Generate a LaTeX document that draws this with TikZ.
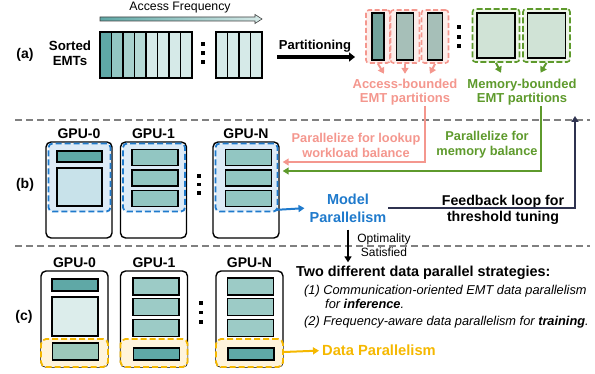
\documentclass[tikz,border=0pt]{standalone}
\usepackage{fontspec}
\setmainfont{Liberation Sans}
\usetikzlibrary{arrows.meta}

\definecolor{tealA}{HTML}{5FA8A6}
\definecolor{tealB}{HTML}{92C6C2}
\definecolor{tealC}{HTML}{A8D2CE}
\definecolor{tealD}{HTML}{B6DAD6}
\definecolor{tealE}{HTML}{D6EAE8}
\definecolor{accA}{HTML}{72A39C}
\definecolor{accB}{HTML}{A6BFB8}
\definecolor{memfill}{HTML}{D0E3D6}
\definecolor{salmon}{HTML}{F4978E}
\definecolor{salmonbg}{HTML}{FDEDEA}
\definecolor{leaf}{HTML}{5E9A2C}
\definecolor{leafbg}{HTML}{EEF5E8}
\definecolor{mpblue}{HTML}{1F7ACC}
\definecolor{mpbg}{HTML}{DDEBF7}
\definecolor{navy}{HTML}{2F3350}
\definecolor{dpyellow}{HTML}{F5B800}
\definecolor{dpbg}{HTML}{FFF4DC}
\definecolor{sqblue}{HTML}{C8E2EA}
\definecolor{sqpale}{HTML}{DCEDEB}
\definecolor{barmid}{HTML}{9CCBC6}
\definecolor{barsoft}{HTML}{9CC8BA}

\begin{document}
\begin{tikzpicture}[x=1pt,y=-1pt,
	every node/.style={font=\fontsize{13}{14.5}\selectfont\bfseries, inner sep=0pt},
	cell/.style n args={3}{draw=black, line width=1.1pt, fill=#1, minimum width=#2, minimum height=#3},
	gpu/.style={draw=black, fill=white, line width=1.4pt, rounded corners=5pt, minimum width=66, minimum height=96},
	gpulbl/.style={font=\fontsize{14}{15}\selectfont\bfseries, label distance=2pt},
	panel/.style={font=\fontsize{14}{15}\selectfont\bfseries},
	accbox/.style={draw=salmon, fill=salmonbg, dash pattern=on 5pt off 2.5pt, line width=1.6pt, rounded corners=3pt, minimum height=53},
	membox/.style={draw=leaf, fill=leafbg, dash pattern=on 6pt off 2.5pt, line width=1.6pt, rounded corners=3pt, minimum height=53},
	mpzone/.style={draw=mpblue, fill=mpbg, dash pattern=on 6pt off 3pt, line width=1.8pt, rounded corners=4pt},
	dpzone/.style={draw=dpyellow, fill=dpbg, dash pattern=on 6pt off 3pt, line width=1.8pt, rounded corners=5pt},
	sep/.style={draw=black!50, line width=1.3pt, dash pattern=on 7pt off 4pt},
	tip/.style={-{Triangle[length=6pt,width=7pt]}},
	dot/.style={fill=black, minimum size=3.2pt}]
	\useasboundingbox (0,0) rectangle (595,374);

	% (a) sorted EMTs and partitioning
	\node[panel] (pa) at (25,55) {(a)};
	\node[font=\fontsize{13.3}{15}\selectfont\bfseries, align=center] (sorted) at (70,53) {Sorted\\EMTs};
	\node[font=\fontsize{12.3}{13}\selectfont] (freq) at (180,8) {Access Frequency};
	\shade[left color=tealA, right color=tealE, draw=black!75, line width=0.6pt] (100,17) -- (255,17) -- (255,14.5) -- (262,19) -- (255,23.5) -- (255,21) -- (100,21) -- cycle;
	\foreach \i/\c in {0/tealA,1/tealB,2/tealC,3/tealD,4/tealE,5/tealE,6/tealE,7/tealE}
		\node[cell={\c}{11.5}{46}] (s\i) at (105.75+11.5*\i,55) {};
	\foreach \i in {0,...,3}
		\node[cell={tealE}{11.5}{46}] (t\i) at (221.75+11.5*\i,55) {};
	\foreach \y [count=\k] in {44,53,62}
		\node[dot] (da\k) at (203,\y) {};

	\node (part) at (315,46) {Partitioning};
	\coordinate (partL) at (277,57);
	\coordinate (partR) at (355,57);
	\draw[line width=3.6pt, -{Triangle[length=6pt,width=9pt]}] (partL) -- (partR);

	\foreach \n/\cx/\w/\c in {1/378/12/accA, 2/405/17/accB, 3/435/15/accB} {
		\node[accbox, minimum width=\w+12] (accd\n) at (\cx,36.5) {};
		\node[cell={\c}{\w}{47}] (accb\n) at (\cx,36.5) {};
	}
	\foreach \y [count=\k] in {27,37,46}
		\node[dot] (dm\k) at (459,\y) {};
	\foreach \n/\cx in {1/496, 2/546.5} {
		\node[membox, minimum width=47] (memd\n) at (\cx,35.5) {};
		\node[cell={memfill}{38}{45}] (memb\n) at (\cx,35.5) {};
	}

	\node[text=salmon, align=center] (acc) at (405,92) {Access-bounded\\EMT partitions};
	\node[text=leaf, align=center] (mem) at (522,92) {Memory-bounded\\EMT partitions};
	\draw[salmon, line width=2pt, tip] (accd1.south) -- ++(6,10);
	\draw[salmon, line width=2pt, tip] (accd2.south) -- ++(0,10);
	\draw[salmon, line width=2pt, tip] (accd3.south) -- ++(-5,10);
	\draw[leaf, line width=2pt, tip] (memd1.south) -- ++(5,10);
	\draw[leaf, line width=2pt, tip] (memd2.south) -- ++(-6,10);

	\draw[sep] (15,120) -- (590,120);
	\draw[sep] (15,246) -- (590,246);

	% (b) model parallelism
	\node[panel] (pb) at (25,185) {(b)};
	\foreach \g/\cx/\t in {0/79/GPU-0, 1/153.5/GPU-1, N/246/GPU-N} {
		\node[gpu, label={[gpulbl]above:\t}] (gpub\g) at (\cx,190) {};
		\node[mpzone, minimum width=62, minimum height=68] (mpz\g) at (\cx+0.5,177.5) {};
	}
	\node[cell={tealA}{45}{11}] (b0a) at (79.5,156.5) {};
	\node[cell={sqblue}{45}{38}] (b0b) at (79.5,187) {};
	\foreach \g/\cx in {1/155, N/248.5}
		\foreach \y [count=\k] in {157.5,178,198.5}
			\node[cell={tealB}{46}{16}] (b\g\k) at (\cx,\y) {};
	\foreach \y [count=\k] in {176,184.5,193}
		\node[dot] (db\k) at (199,\y) {};

	\node[font=\fontsize{12.8}{15}\selectfont\bfseries, text=salmon, align=center] (lookup) at (356,145) {Parallelize for lookup\\workload balance};
	\node[font=\fontsize{12.8}{15}\selectfont\bfseries, text=leaf, align=center] (membal) at (487,145) {Parallelize for\\memory balance};
	\coordinate (accdrop) at (425,106);
	\coordinate (memdrop) at (541,106);
	\draw[salmon, line width=2pt, tip] (accdrop) |- ([xshift=3,yshift=28]gpubN.east);
	\draw[leaf, line width=2pt, tip] (memdrop) |- ([xshift=3,yshift=19]gpubN.east);

	\node[font=\fontsize{14.5}{18}\selectfont\bfseries, text=mpblue, align=center, inner sep=2pt] (mp) at (348,208) {Model\\Parallelism};
	\draw[mpblue, line width=2pt, tip, shorten >=3pt] ([shift={(-3,-2.5)}]mpzN.south east) -- (mp.west);
	\node[font=\fontsize{14.2}{16.5}\selectfont\bfseries, align=center] (fb) at (503,210) {Feedback loop for\\threshold tuning};
	\coordinate (fbtop) at (575,116);
	\draw[navy, line width=2pt, tip] (mp.east) -| (fbtop);

	\node[font=\fontsize{12}{14}\selectfont, align=center] (opt) at (384,245) {Optimality\\Satisfied};

	% (c) data parallelism
	\node[panel] (pc) at (24,317) {(c)};
	\foreach \g/\cx/\t in {0/74.5/GPU-0, 1/154/GPU-1, N/249.5/GPU-N} {
		\node[gpu, minimum width=67, label={[gpulbl]above:\t}] (gpuc\g) at (\cx,319) {};
		\node[dpzone, minimum width=67, minimum height=28] (dpz\g) at (\cx,353) {};
	}
	\node[cell={tealA}{46}{12}] (c0a) at (75,285) {};
	\node[cell={sqpale}{46}{39}] (c0b) at (75,316.5) {};
	\node[cell={barsoft}{46}{17}] (c0c) at (75.5,351.5) {};
	\foreach \g/\cx in {1/156, N/250.5} {
		\foreach \y [count=\k] in {286.5,307,328}
			\node[cell={barmid}{46}{17}] (c\g\k) at (\cx,\y) {};
		\node[cell={tealA}{46}{12}] (c\g z) at (\cx+0.5,354) {};
	}
	\foreach \y [count=\k] in {303,312.5,322}
		\node[dot] (dc\k) at (201,\y) {};

	\node[font=\fontsize{14.4}{15}\selectfont\bfseries, anchor=base west] (two) at (296,277) {Two different data parallel strategies:};
	\draw[line width=2pt, tip, shorten <=5pt, shorten >=4pt] (mp.south) -- (mp.south |- two.north);
	\foreach \n/\x/\y/\s in {1/304/294.5/{(1) Communication-oriented EMT data parallelism}, 2/325/308.5/{for \textbf{inference}.}, 3/304/325.5/{(2) Frequency-aware data parallelism for \textbf{training}.}}
		\node[font=\fontsize{12.8}{14}\selectfont\mdseries\itshape, anchor=base west] (strat\n) at (\x,\y) {\s};
	\node[font=\fontsize{14.7}{16}\selectfont\bfseries, text=dpyellow, anchor=west] (dp) at (322,350.5) {Data Parallelism};
	\draw[dpyellow, line width=2pt, tip, shorten >=3pt] ([yshift=1]dpzN.east) -- (dp.west);
\end{tikzpicture}
\end{document}
